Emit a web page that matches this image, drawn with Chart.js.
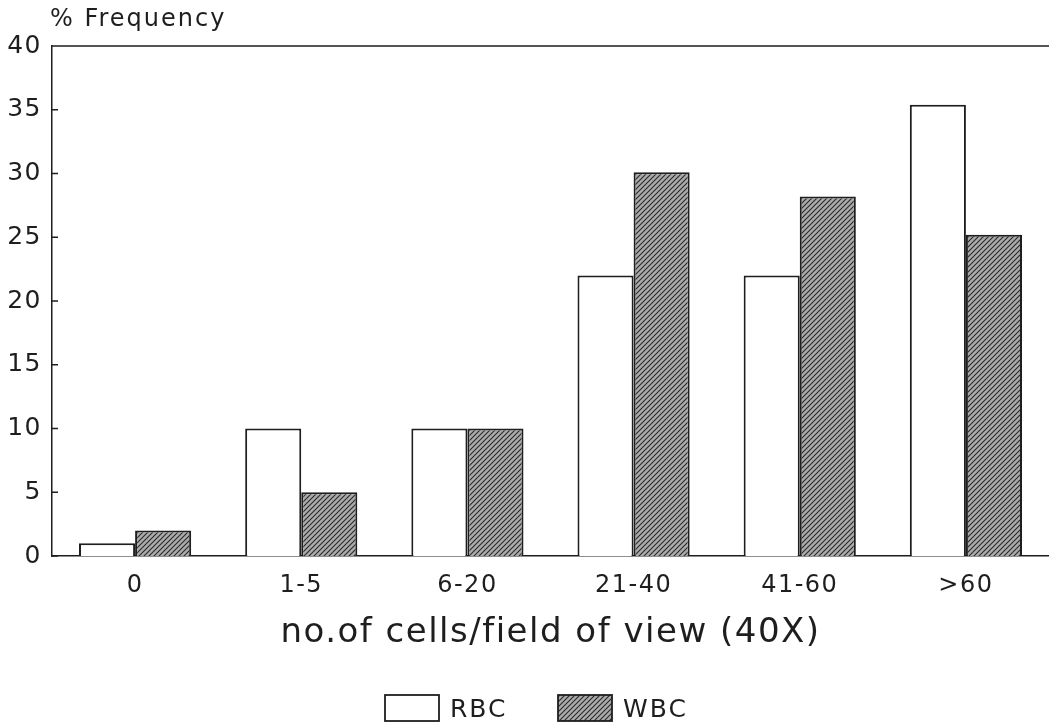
<!DOCTYPE html>
<html>
<head>
<meta charset="utf-8">
<script src="https://cdn.jsdelivr.net/npm/chart.js@4"></script>
<style>
  html, body { margin: 0; padding: 0; background: #fff; }
  #wrap { width: 1049px; height: 725px; }
</style>
</head>
<body>
<div id="wrap"><canvas id="freqChart" width="1049" height="725"></canvas></div>
<script>
const categories = ['0', '1-5', '6-20', '21-40', '41-60', '>60'];
const rbcValues = [1, 10, 10, 22, 22, 35.4];
const wbcValues = [2, 5, 10, 30.1, 28.2, 25.2];
const yTicks = [0, 5, 10, 15, 20, 25, 30, 35, 40];

const FONT = "'DejaVu Sans', 'Liberation Sans', sans-serif";
const INK = '#1e1e1e';

function makeHatch() {
    const c = document.createElement('canvas');
    c.width = 5; c.height = 5;
    const g = c.getContext('2d');
    g.fillStyle = '#ababab';
    g.fillRect(0, 0, 5, 5);
    g.strokeStyle = '#2a2a2a';
    g.lineWidth = 1.1;
    g.beginPath();
    g.moveTo(0, 5); g.lineTo(5, 0);
    g.moveTo(-2.5, 2.5); g.lineTo(2.5, -2.5);
    g.moveTo(2.5, 7.5); g.lineTo(7.5, 2.5);
    g.stroke();
    return g.createPattern(c, 'repeat');
}
const hatch = makeHatch();

// slight letter spacing like the original typeset figure
const spacingPlugin = {
    id: 'spacing',
    beforeUpdate(chart) { chart.ctx.letterSpacing = '1.5px'; },
    beforeDraw(chart) { chart.ctx.letterSpacing = '1.5px'; }
};

// frame bits: top line, inward y ticks, "% Frequency" label, legend
const framePlugin = {
    id: 'frame',
    afterDraw(chart) {
        const ctx = chart.ctx;
        const area = chart.chartArea;
        const y = chart.scales.y;
        ctx.save();
        ctx.strokeStyle = INK;
        ctx.lineWidth = 1.5;
        ctx.beginPath();
        ctx.moveTo(area.left, area.top);
        ctx.lineTo(area.right, area.top);
        yTicks.forEach(function (t) {
            const py = y.getPixelForValue(t);
            ctx.moveTo(area.left, py);
            ctx.lineTo(area.left + 6, py);
        });
        ctx.stroke();

        ctx.fillStyle = INK;
        ctx.letterSpacing = '2px';
        ctx.font = '24px ' + FONT;
        ctx.textBaseline = 'middle';
        ctx.textAlign = 'left';
        ctx.fillText('% Frequency', 50, 20);

        // legend
        const items = [
            { text: chart.data.datasets[0].label, fill: chart.data.datasets[0].backgroundColor, x: 385 },
            { text: chart.data.datasets[1].label, fill: chart.data.datasets[1].backgroundColor, x: 558 }
        ];
        ctx.font = '25px ' + FONT;
        ctx.letterSpacing = '2px';
        items.forEach(function (it) {
            ctx.fillStyle = it.fill;
            ctx.fillRect(it.x, 695, 54, 26);
            ctx.strokeStyle = INK;
            ctx.lineWidth = 1.8;
            ctx.strokeRect(it.x, 695, 54, 26);
            ctx.fillStyle = INK;
            ctx.fillText(it.text, it.x + 65, 710);
        });
        ctx.restore();
    }
};

const attachData = {
    labels: categories,
    datasets: [{
        label: 'RBC',
        data: rbcValues,
        backgroundColor: '#ffffff',
        borderColor: INK,
        borderWidth: 2,
        categoryPercentage: 0.675,
        barPercentage: 1.0
    }, {
        label: 'WBC',
        data: wbcValues,
        backgroundColor: hatch,
        borderColor: INK,
        borderWidth: 2,
        categoryPercentage: 0.675,
        barPercentage: 1.0
    }]
};

const config = {
    type: 'bar',
    data: attachData,
    options: {
        responsive: false,
        animation: false,
        layout: { padding: { top: 46, right: 0, left: 0, bottom: 57 } },
        plugins: {
            tooltip: { enabled: false },
            legend: { display: false }
        },
        scales: {
            x: {
                grid: { display: false, drawTicks: false },
                border: { display: true, color: INK, width: 1.5 },
                ticks: { color: INK, font: { family: FONT, size: 24 }, padding: 15 },
                title: {
                    display: true,
                    text: 'no.of cells/field of view (40X)',
                    color: INK,
                    font: { family: FONT, size: 34 },
                    padding: { top: 0, bottom: 14 }
                },
                afterFit: function (scale) { scale.height = 112; }
            },
            y: {
                min: 0,
                max: 40,
                grid: { display: false, drawTicks: false },
                border: { display: true, color: INK, width: 1.5 },
                ticks: {
                    stepSize: 5,
                    color: INK,
                    font: { family: FONT, size: 25 },
                    padding: 10
                },
                afterFit: function (scale) { scale.width = 52; }
            }
        }
    },
    plugins: [spacingPlugin, framePlugin]
};

const myChart = new Chart(document.getElementById('freqChart'), config);
</script>
</body>
</html>
